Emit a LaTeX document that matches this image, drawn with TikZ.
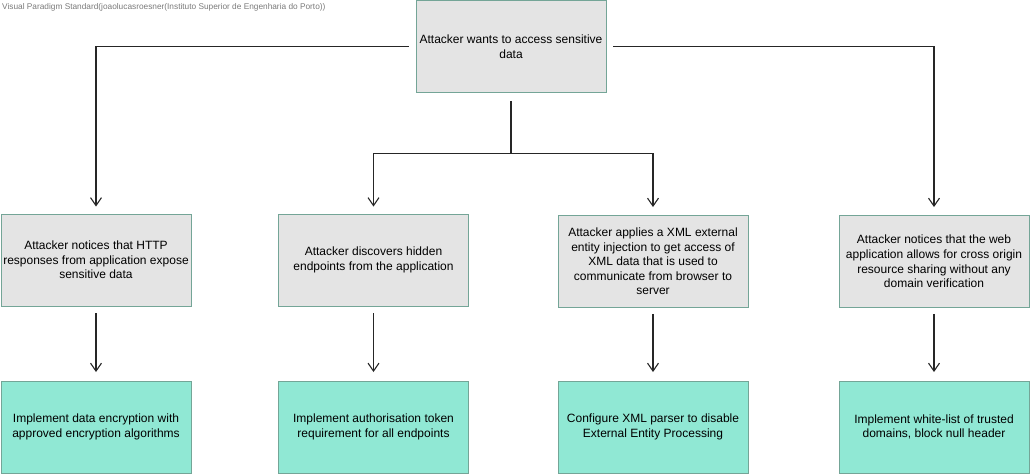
\documentclass[tikz,border=0pt]{standalone}
\usepackage{fontspec}
\setmainfont{Liberation Sans}
\usetikzlibrary{arrows.meta}
\definecolor{boxgray}{HTML}{E4E4E4}
\definecolor{boxgreen}{HTML}{90E8D4}
\definecolor{boxborder}{HTML}{74A597}
\definecolor{wmgray}{HTML}{7A7A7A}
\tikzset{
  attack/.style={draw=boxborder, line width=0.9pt, fill=boxgray, minimum width=190pt, minimum height=92pt, inner sep=0pt, align=center, font=\fontsize{12}{14.6}\selectfont},
  defense/.style={attack, fill=boxgreen},
  conn/.style={line width=1.4pt, draw=black!85, -{Straight Barb[length=8pt,width=11pt,line width=1.1pt]}},
  plain/.style={line width=1.4pt, draw=black!85},
}
\begin{document}
\begin{tikzpicture}[x=1pt,y=-1pt]
\useasboundingbox (0,0) rectangle (1030,474);
\node[anchor=north west, inner sep=0pt, text=wmgray, font=\fontsize{8.3}{9}\selectfont] (wm) at (2,3) {Visual Paradigm Standard(joaolucasroesner(Instituto Superior de Engenharia do Porto))};

\node[attack] (top) at (511,46.5) {Attacker wants to access sensitive\\data};

\node[attack] (a1) at (96,260) {Attacker notices that HTTP\\responses from application expose\\sensitive data};
\node[attack] (a2) at (373.5,260) {Attacker discovers hidden\\endpoints from the application};
\node[attack] (a3) at (653,261.5) {Attacker applies a XML external\\entity injection to get access of\\XML data that is used to\\communicate from browser to\\server};
\node[attack] (a4) at (934,261.5) {Attacker notices that the web\\application allows for cross origin\\resource sharing without any\\domain verification};

\node[defense] (d1) at (96,427) {Implement data encryption with\\approved encryption algorithms};
\node[defense] (d2) at (373.5,427) {Implement authorisation token\\requirement for all endpoints};
\node[defense] (d3) at (653,427) {Configure XML parser to disable\\External Entity Processing};
\node[defense] (d4) at (934,427) {Implement white-list of trusted\\domains, block null header};

\coordinate (j) at (511,153.5);

\draw[conn, shorten <=7pt, shorten >=7pt] (top.west) -| (a1.north);
\draw[conn, shorten <=7pt, shorten >=8pt] (top.east) -| (a4.north);
\draw[plain, shorten <=8pt] (top.south) -- (j);
\draw[conn, shorten >=7pt] (j) -| (a2.north);
\draw[conn, shorten >=8pt] (j) -| (a3.north);

\draw[conn, shorten <=7pt, shorten >=8.5pt] (a1.south) -- (d1.north);
\draw[conn, shorten <=7pt, shorten >=8.5pt] (a2.south) -- (d2.north);
\draw[conn, shorten <=6pt, shorten >=8.5pt] (a3.south) -- (d3.north);
\draw[conn, shorten <=6pt, shorten >=8.5pt] (a4.south) -- (d4.north);
\end{tikzpicture}
\end{document}
